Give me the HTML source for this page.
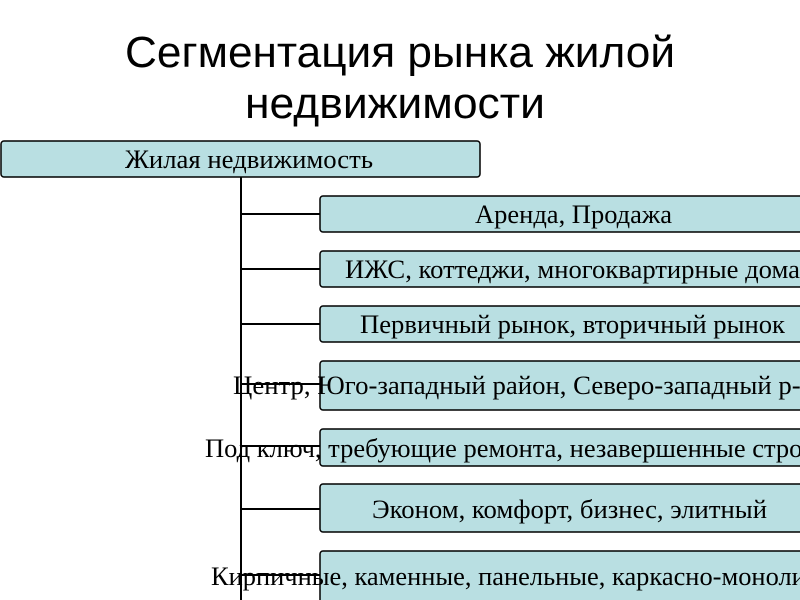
<!DOCTYPE html>
<html><head><meta charset="utf-8"><style>
html,body{margin:0;padding:0;background:#fff;width:800px;height:600px;overflow:hidden}
</style></head><body>
<svg width="800" height="600" xmlns="http://www.w3.org/2000/svg">
<text x="400" y="67" font-family="Liberation Sans, sans-serif" font-size="44" text-anchor="middle" fill="#000" textLength="550" lengthAdjust="spacingAndGlyphs">Сегментация рынка жилой</text>
<text x="395" y="118" font-family="Liberation Sans, sans-serif" font-size="44" text-anchor="middle" fill="#000" textLength="300" lengthAdjust="spacingAndGlyphs">недвижимости</text>
<g fill="#b9dfe2" stroke="#000" stroke-width="1.5">
<rect x="1" y="141" width="479" height="36" rx="3"/>
<rect x="320" y="196" width="485" height="36" rx="3"/>
<rect x="320" y="251" width="485" height="36" rx="3"/>
<rect x="320" y="306" width="485" height="36" rx="3"/>
<rect x="320" y="361" width="485" height="49" rx="3"/>
<rect x="320" y="429" width="485" height="37" rx="3"/>
<rect x="320" y="484" width="485" height="48" rx="3"/>
<rect x="320" y="551" width="485" height="55" rx="3"/>
</g>
<g stroke="#000" stroke-width="2">
<line x1="241" y1="177" x2="241" y2="600"/>
<line x1="241" y1="214" x2="320" y2="214"/>
<line x1="241" y1="269" x2="320" y2="269"/>
<line x1="241" y1="324" x2="320" y2="324"/>
<line x1="241" y1="384" x2="320" y2="384"/>
<line x1="241" y1="446" x2="320" y2="446"/>
<line x1="241" y1="509" x2="320" y2="509"/>
<line x1="241" y1="575" x2="320" y2="575"/>
</g>
<g font-family="Liberation Serif, serif" font-size="26" fill="#000" lengthAdjust="spacingAndGlyphs">
<text x="125" y="168" textLength="248" lengthAdjust="spacingAndGlyphs">Жилая недвижимость</text>
<text x="475" y="223" textLength="197" lengthAdjust="spacingAndGlyphs">Аренда, Продажа</text>
<text x="345" y="278" textLength="455" lengthAdjust="spacingAndGlyphs">ИЖС, коттеджи, многоквартирные дома</text>
<text x="360" y="333" textLength="425" lengthAdjust="spacingAndGlyphs">Первичный рынок, вторичный рынок</text>
<text x="233" y="394" textLength="582" lengthAdjust="spacingAndGlyphs">Центр, Юго-западный район, Северо-западный р-н</text>
<text x="205" y="457" textLength="650" lengthAdjust="spacingAndGlyphs">Под ключ, требующие ремонта, незавершенные строения</text>
<text x="372" y="518" textLength="395" lengthAdjust="spacingAndGlyphs">Эконом, комфорт, бизнес, элитный</text>
<text x="211" y="585" textLength="650" lengthAdjust="spacingAndGlyphs">Кирпичные, каменные, панельные, каркасно-монолитные</text>
</g>
</svg>
</body></html>
